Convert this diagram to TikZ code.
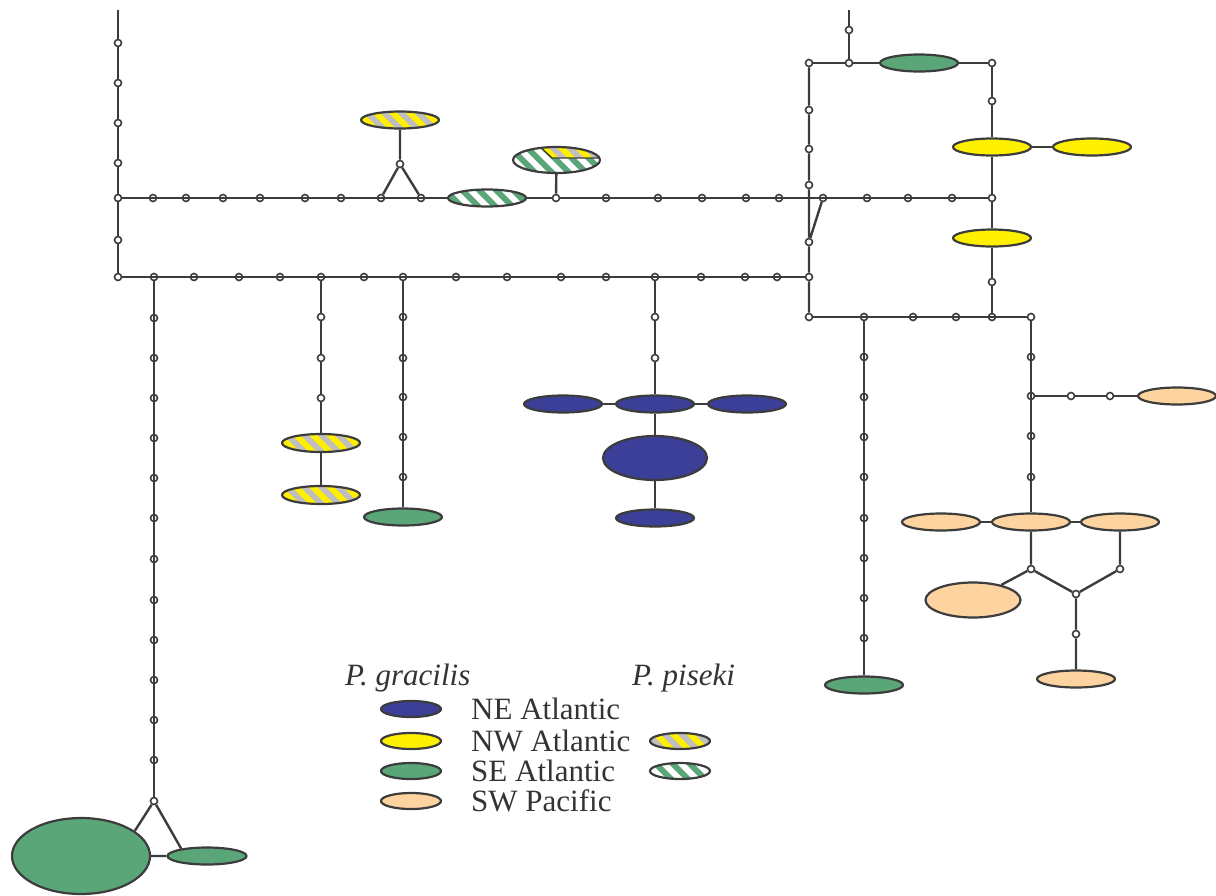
\documentclass[tikz,border=0pt]{standalone}
\usepackage{fontspec}
\setmainfont{Liberation Serif}
\usetikzlibrary{shapes.geometric}

\definecolor{neblue}{HTML}{3B3F97}
\definecolor{nwyellow}{HTML}{FFF000}
\definecolor{segreen}{HTML}{5AA678}
\definecolor{swpeach}{HTML}{FDD39F}
\definecolor{stripegrey}{HTML}{BFBFBF}
\definecolor{edgegrey}{HTML}{3C3C3C}

\tikzset{
	vtx/.style={circle, draw=edgegrey, fill=white, line width=1.6pt, inner sep=0pt, minimum size=7pt},
	hap/.style={ellipse, draw=edgegrey, line width=2.2pt, inner sep=0pt, minimum width=78pt, minimum height=17pt},
	ne/.style={hap, fill=neblue},
	nw/.style={hap, fill=nwyellow},
	se/.style={hap, fill=segreen},
	sw/.style={hap, fill=swpeach},
	stripes/.style 2 args={path picture={
		\fill[#1] (path picture bounding box.south west) rectangle (path picture bounding box.north east);
		\foreach \k in {-6,...,6}
			\draw[#2, line width=6pt] ([shift={(\k*17-20,-20)}]path picture bounding box.center) -- ([shift={(\k*17+20,20)}]path picture bounding box.center);}},
	pyg/.style={hap, stripes={stripegrey}{nwyellow}},
	pgw/.style={hap, stripes={white}{segreen}},
	split/.style={hap, minimum width=87pt, minimum height=26pt, path picture={
		\fill[white] (path picture bounding box.south west) rectangle (path picture bounding box.north east);
		\foreach \k in {-6,...,6}
			\draw[segreen, line width=6pt] ([shift={(\k*17-20,-20)}]path picture bounding box.center) -- ([shift={(\k*17+20,20)}]path picture bounding box.center);
		\begin{scope}
			\clip ([shift={(-24,-20)}]path picture bounding box.center) -- ([shift={(-4.5,-2)}]path picture bounding box.center) -- ([shift={(50,-2)}]path picture bounding box.center) -- ([shift={(50,-20)}]path picture bounding box.center) -- cycle;
			\fill[stripegrey] (path picture bounding box.south west) rectangle (path picture bounding box.north east);
			\foreach \k in {-6,...,6}
				\draw[nwyellow, line width=6pt] ([shift={(\k*17-20,-20)}]path picture bounding box.center) -- ([shift={(\k*17+20,20)}]path picture bounding box.center);
		\end{scope}
		\draw[edgegrey, line width=1.4pt] ([shift={(-24,-20)}]path picture bounding box.center) -- ([shift={(-4.5,-2)}]path picture bounding box.center) -- ([shift={(50,-2)}]path picture bounding box.center);}},
	link/.style={draw=edgegrey, line width=2.4pt},
	legtext/.style={anchor=base west, inner sep=0pt, text=black!80, font=\fontsize{31}{36}\selectfont},
}

\begin{document}
\begin{tikzpicture}[x=1pt, y=-1pt]
	\useasboundingbox (0,0) rectangle (1216,895);

	% haplotypes
	\node[pyg] (yg1) at (400,120) {};
	\node[pgw] (gw1) at (487,198) {};
	\node[split] (sp) at (556.5,160) {};
	\node[pyg, minimum height=18pt] (yg2) at (321,443) {};
	\node[pyg, minimum height=18pt] (yg3) at (321,495) {};
	\node[se] (g5) at (403,517) {};
	\node[ne] (q1) at (563,404) {};
	\node[ne] (q2) at (655,404) {};
	\node[ne] (q3) at (747,404) {};
	\node[ne, minimum width=104pt, minimum height=44pt] (q4) at (655,458) {};
	\node[ne] (q5) at (655,518) {};
	\node[se, minimum width=138pt, minimum height=76pt] (g3) at (81,856) {};
	\node[se, minimum width=79pt] (g4) at (207,856) {};
	\node[se] (g1) at (919,63) {};
	\node[nw] (y1) at (992,147) {};
	\node[nw] (y3) at (1092,147) {};
	\node[nw] (y2) at (992,238) {};
	\node[se] (g2) at (864,685) {};
	\node[sw] (p0) at (1177,396) {};
	\node[sw] (p1) at (941,522) {};
	\node[sw] (p2) at (1031,522) {};
	\node[sw] (p3) at (1120,522) {};
	\node[sw, minimum width=95pt, minimum height=35pt] (p4) at (973,600) {};
	\node[sw] (p5) at (1076,679) {};

	% median vectors
	\coordinate (ltop) at (118,10);
	\coordinate (ttop) at (849,10);
	\foreach \y [count=\i] in {43,83,123,163,240} \node[vtx] (l\i) at (118,\y) {};
	\foreach \x [count=\i] in {118,153,186,223,260,305,341,381,421,556,606,658,702,746,779,823,867,908,952,992}
		\node[vtx] (u\i) at (\x,198) {};
	\foreach \x [count=\i] in {118,154,194,239,280,321,364,403,456,507,561,606,655,701,745,777,809}
		\node[vtx] (b\i) at (\x,277) {};
	\foreach \y [count=\i] in {318,358,398,438,478,518,559,600,640,680,720,760,801}
		\node[vtx] (c\i) at (154,\y) {};
	\foreach \y [count=\i] in {317,358,398} \node[vtx] (m\i) at (321,\y) {};
	\foreach \y [count=\i] in {317,358,397,437,477} \node[vtx] (o\i) at (403,\y) {};
	\foreach \y [count=\i] in {317,358} \node[vtx] (n\i) at (655,\y) {};
	\node[vtx] (v1) at (400,164) {};
	\foreach \y [count=\i] in {63,110,149,185,242,317} \node[vtx] (r\i) at (809,\y) {};
	\node[vtx] (t1) at (849,30) {};
	\node[vtx] (t2) at (849,63) {};
	\node[vtx] (t3) at (992,63) {};
	\node[vtx] (k1) at (992,101) {};
	\node[vtx] (k2) at (992,282) {};
	\foreach \x [count=\i] in {864,913,956,992,1031} \node[vtx] (s\i) at (\x,317) {};
	\foreach \y [count=\i] in {357,397,437,477,518,558,598,638} \node[vtx] (d\i) at (864,\y) {};
	\foreach \y [count=\i] in {357,396,436,477} \node[vtx] (e\i) at (1031,\y) {};
	\node[vtx] (f1) at (1071,396) {};
	\node[vtx] (f2) at (1110,396) {};
	\node[vtx] (h1) at (1031,569) {};
	\node[vtx] (h2) at (1120,569) {};
	\node[vtx] (h3) at (1076,594) {};
	\node[vtx] (h4) at (1076,634) {};

	% links
	\draw[link] (ltop) -- (l1) -- (l2) -- (l3) -- (l4) -- (u1) -- (l5) -- (b1);
	\draw[link] (u1) \foreach \i in {2,...,9} {-- (u\i)} -- (gw1) -- (u10) \foreach \i in {11,...,20} {-- (u\i)};
	\draw[link] (u8) -- (v1) -- (u9) (v1) -- (yg1) (u10) -- (sp);
	\draw[link] (b1) \foreach \i in {2,...,17} {-- (b\i)};
	\draw[link] (b2) \foreach \i in {1,...,13} {-- (c\i)};
	\draw[link] (c13) -- (g3.25) (c13) -- (g4.164) (g3) -- (g4);
	\draw[link] (b6) -- (m1) -- (m2) -- (m3) -- (yg2) -- (yg3);
	\draw[link] (b8) \foreach \i in {1,...,5} {-- (o\i)} -- (g5);
	\draw[link] (b13) -- (n1) -- (n2) -- (q2) -- (q4) -- (q5) (q1) -- (q2) -- (q3);
	\draw[link] (r1) -- (r2) -- (r3) -- (r4) -- (r5) -- (b17) -- (r6) (u16) -- (r5);
	\draw[link] (ttop) -- (t1) -- (t2) (r1) -- (t2) -- (g1) -- (t3) -- (k1) -- (y1) -- (u20) -- (y2) -- (k2) -- (s4);
	\draw[link] (y1) -- (y3);
	\draw[link] (r6) \foreach \i in {1,...,5} {-- (s\i)};
	\draw[link] (s1) \foreach \i in {1,...,8} {-- (d\i)} -- (g2);
	\draw[link] (s5) \foreach \i in {1,...,4} {-- (e\i)} -- (p2);
	\draw[link] (e2) -- (f1) -- (f2) -- (p0);
	\draw[link] (p1) -- (p2) -- (p3);
	\draw[link] (p2) -- (h1) -- (p4) (h1) -- (h3) -- (h2) -- (p3) (h3) -- (h4) -- (p5);

	% legend
	\node[legtext, font=\fontsize{31}{36}\selectfont\itshape] (gra) at (345,685) {P. gracilis};
	\node[legtext, font=\fontsize{31}{36}\selectfont\itshape] (pis) at (632,685) {P. piseki};
	\node[ne, minimum width=60pt, minimum height=16pt] (kne) at (411,709) {};
	\node[nw, minimum width=60pt, minimum height=16pt] (knw) at (411,741) {};
	\node[se, minimum width=60pt, minimum height=16pt] (kse) at (411,771) {};
	\node[sw, minimum width=60pt, minimum height=16pt] (ksw) at (411,801) {};
	\node[pyg, minimum width=60pt, minimum height=16pt] (kyg) at (680,741) {};
	\node[pgw, minimum width=60pt, minimum height=16pt] (kgw) at (680,771) {};
	\node[legtext] (tne) at (471,719) {NE Atlantic};
	\node[legtext] (tnw) at (471,751) {NW Atlantic};
	\node[legtext] (tse) at (471,781) {SE Atlantic};
	\node[legtext] (tsw) at (471,811) {SW Pacific};
\end{tikzpicture}
\end{document}
